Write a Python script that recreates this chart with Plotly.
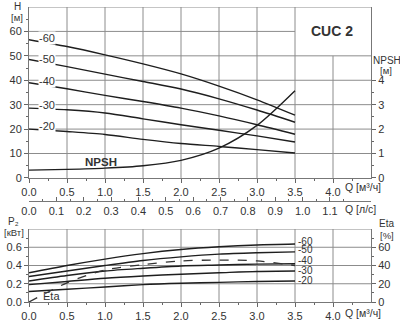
import plotly.graph_objects as go

# Flow rate grid, m³/h
q = [0.0, 0.5, 1.0, 1.5, 2.0, 2.5, 3.0, 3.5]

# Head curves H [m] per stage count
head_60 = [56.6, 53.8, 50.4, 46.7, 42.6, 37.6, 32.0, 25.7]
head_50 = [48.5, 45.6, 42.5, 39.5, 36.4, 32.4, 27.8, 22.8]
head_40 = [39.0, 36.5, 33.8, 31.3, 28.6, 25.4, 21.8, 17.9]
head_30 = [28.6, 27.9, 26.6, 24.2, 21.8, 19.5, 17.2, 14.7]
head_20 = [20.0, 19.0, 17.8, 15.8, 14.1, 12.9, 11.6, 10.2]
npsh = [0.32, 0.35, 0.40, 0.50, 0.72, 1.22, 2.15, 3.57]

# Shaft power P2 [kW]
p2_60 = [0.32, 0.40, 0.47, 0.53, 0.575, 0.605, 0.625, 0.635]
p2_50 = [0.28, 0.34, 0.40, 0.455, 0.495, 0.525, 0.54, 0.55]
p2_40 = [0.23, 0.29, 0.34, 0.37, 0.395, 0.405, 0.415, 0.42]
p2_30 = [0.19, 0.225, 0.26, 0.285, 0.305, 0.32, 0.335, 0.34]
p2_20 = [0.115, 0.14, 0.165, 0.19, 0.205, 0.215, 0.225, 0.23]
# Efficiency [%]
eta = [0.0, 21.0, 35.0, 41.0, 45.0, 46.0, 45.0, 40.0]

stage_labels = ["-60", "-50", "-40", "-30", "-20"]
q_ticks = [0.0, 0.5, 1.0, 1.5, 2.0, 2.5, 3.0, 3.5, 4.0]
ls_ticks = [round(0.1 * i, 1) for i in range(12)]
h_ticks = [0, 10, 20, 30, 40, 50, 60]
npsh_ticks = [0, 1, 2, 3, 4]
p_ticks = [0.0, 0.2, 0.4, 0.6]
eta_ticks = [0, 20, 40, 60]

W, H = 400, 329
ML, MR, MT, MB = 26, 29, 7, 16
PW, PH = W - ML - MR, H - MT - MB
FONT = "Liberation Sans, Arial, sans-serif"
LINE = "#1e1e1e"
GRID = "#8c8c8c"
TXT = "#333333"


def px(x):
    return (x - ML) / PW


def py(y):
    return (H - MB - y) / PH


top_dom = [py(184.3), 1.0]
bot_dom = [0.0, py(237.3)]

fig = go.Figure()

heads = [head_60, head_50, head_40, head_30, head_20]
for name, h in zip(stage_labels, heads):
    fig.add_trace(go.Scatter(x=q, y=h, mode="lines", name=name,
                             line=dict(color=LINE, width=1.4, shape="spline", smoothing=0.8),
                             xaxis="x", yaxis="y", showlegend=False, hoverinfo="skip"))
fig.add_trace(go.Scatter(x=q, y=npsh, mode="lines", name="NPSH",
                         line=dict(color=LINE, width=1.4, shape="spline", smoothing=0.8),
                         xaxis="x", yaxis="y2", showlegend=False, hoverinfo="skip"))
# carrier for the secondary l/s flow axis
fig.add_trace(go.Scatter(x=[0], y=[None], mode="lines", xaxis="x3", yaxis="y",
                         showlegend=False, hoverinfo="skip"))

powers = [p2_60, p2_50, p2_40, p2_30, p2_20]
for name, p in zip(stage_labels, powers):
    fig.add_trace(go.Scatter(x=q, y=p, mode="lines", name=name,
                             line=dict(color=LINE, width=1.4, shape="spline", smoothing=0.8),
                             xaxis="x2", yaxis="y3", showlegend=False, hoverinfo="skip"))
fig.add_trace(go.Scatter(x=q, y=eta, mode="lines", name="Eta",
                         line=dict(color="#333333", width=1.3, dash="dash", shape="spline", smoothing=0.8),
                         xaxis="x2", yaxis="y4", showlegend=False, hoverinfo="skip"))

tickfont = dict(family=FONT, size=11, color=TXT)
common_x = dict(range=[0, 4.5], tickvals=q_ticks, ticktext=[f"{v:.1f}" for v in q_ticks],
                ticks="outside", ticklen=4, tickcolor="#666", showgrid=False, zeroline=False,
                showline=True, linecolor="#777", linewidth=1, tickfont=tickfont,
                minor=dict(tickvals=[v + 0.25 for v in q_ticks], ticks="outside", ticklen=2,
                           tickcolor="#666", showgrid=False))

fig.update_layout(
    width=W, height=H, margin=dict(l=ML, r=MR, t=MT, b=MB),
    paper_bgcolor="white", plot_bgcolor="white",
    font=dict(family=FONT, color=TXT),
    xaxis=dict(domain=[0, 1], anchor="y", **common_x),
    xaxis2=dict(domain=[0, 1], anchor="y3", **common_x),
    xaxis3=dict(overlaying="x", anchor="free", position=py(208), range=[0, 4.5 / 3.6],
                tickvals=ls_ticks, ticktext=[f"{v:.1f}" for v in ls_ticks],
                ticks="inside", ticklen=4, tickcolor="#666", showgrid=False, zeroline=False,
                showline=True, linecolor="#777", linewidth=1, tickfont=tickfont,
                minor=dict(tickvals=[round(v + 0.05, 2) for v in ls_ticks], ticks="inside",
                           ticklen=2, tickcolor="#666", showgrid=False)),
    yaxis=dict(domain=top_dom, anchor="x", range=[0, 70], tickvals=h_ticks,
               ticks="outside", ticklen=4, tickcolor="#666", showgrid=False, zeroline=False,
               showline=True, linecolor="#777", tickfont=tickfont,
               minor=dict(tickvals=[v + 5 for v in h_ticks], ticks="outside", ticklen=2,
                          tickcolor="#666", showgrid=False)),
    yaxis2=dict(overlaying="y", side="right", anchor="x", range=[0, 7], tickvals=npsh_ticks,
                ticks="outside", ticklen=4, tickcolor="#666", showgrid=False, zeroline=False,
                showline=True, linecolor="#777", tickfont=tickfont,
                minor=dict(tickvals=[0.5, 1.5, 2.5, 3.5], ticks="outside", ticklen=2,
                           tickcolor="#666", showgrid=False)),
    yaxis3=dict(domain=bot_dom, anchor="x2", range=[0, 0.8], tickvals=p_ticks,
                ticktext=[f"{v:.1f}" for v in p_ticks],
                ticks="outside", ticklen=4, tickcolor="#666", showgrid=False, zeroline=False,
                showline=True, linecolor="#777", tickfont=tickfont,
                minor=dict(tickvals=[0.1, 0.3, 0.5, 0.7], ticks="outside", ticklen=2,
                           tickcolor="#666", showgrid=False)),
    yaxis4=dict(overlaying="y3", side="right", anchor="x2", range=[0, 80], tickvals=eta_ticks,
                ticks="outside", ticklen=4, tickcolor="#666", showgrid=False, zeroline=False,
                showline=True, linecolor="#777", tickfont=tickfont,
                minor=dict(tickvals=[10, 30, 50, 70], ticks="outside", ticklen=2,
                           tickcolor="#666", showgrid=False)),
)

shapes = []


def gline(xref, yref, x0, y0, x1, y1):
    shapes.append(dict(type="line", xref=xref, yref=yref, x0=x0, y0=y0, x1=x1, y1=y1,
                       line=dict(color=GRID, width=1), layer="below"))


# top panel grid, leaving the title box (3.5..4.5, 50..70) open
for v in q_ticks[1:]:
    gline("x", "y", v, 0, v, 50 if v == 4.0 else 70)
for v in h_ticks[1:]:
    gline("x", "y", 0, v, 3.5 if v == 60 else 4.5, v)
gline("x", "y", 0, 70, 4.5, 70)
# bottom panel grid
for v in q_ticks[1:]:
    gline("x2", "y3", v, 0, v, 0.8)
for v in p_ticks[1:] + [0.8]:
    gline("x2", "y3", 0, v, 4.5, v)
fig.update_layout(shapes=shapes)

ann = []


def text(x, y, s, size=11, anchor="center", bold=False, bg=None):
    a = dict(xref="paper", yref="paper", x=px(x), y=py(y), text=f"<b>{s}</b>" if bold else s,
             showarrow=False, xanchor=anchor, yanchor="middle",
             font=dict(family=FONT, size=size, color=TXT))
    if bg:
        a.update(bgcolor=bg, borderpad=0)
    ann.append(a)


text(14, 6, "H", 10)
text(14, 18, "[м]", 9.5)
text(387, 62, "NPSH", 10)
text(386, 73, "[м]", 9.5)
text(332, 32, "CUC 2", 14, bold=True)
text(99, 168, "NPSH", 11.5, bold=True)
text(343, 194, "Q [м³/ч]", 10.5, anchor="left")
text(343, 217, "Q [л/с]", 10.5, anchor="left")
text(343, 324, "Q [м³/ч]", 10.5, anchor="left")
text(10, 229, "P₂", 10)
text(11, 241, "[кВт]", 9.5)
text(387, 232, "Eta", 10)
text(387, 244, "[%]", 9.5)
text(49, 307, "Eta", 11)

# stage count labels beside the head curves
for s, yy in zip(stage_labels, [38.7, 61, 83.3, 108.7, 130]):
    text(44, yy, s, 11, bg="white")
# stage count labels at the ends of the power curves
for s, yy in zip(stage_labels, [250, 259, 270, 280.5, 290.5]):
    text(295, yy, s, 10, anchor="left")

fig.update_layout(annotations=ann)
fig.write_html("out.html")
